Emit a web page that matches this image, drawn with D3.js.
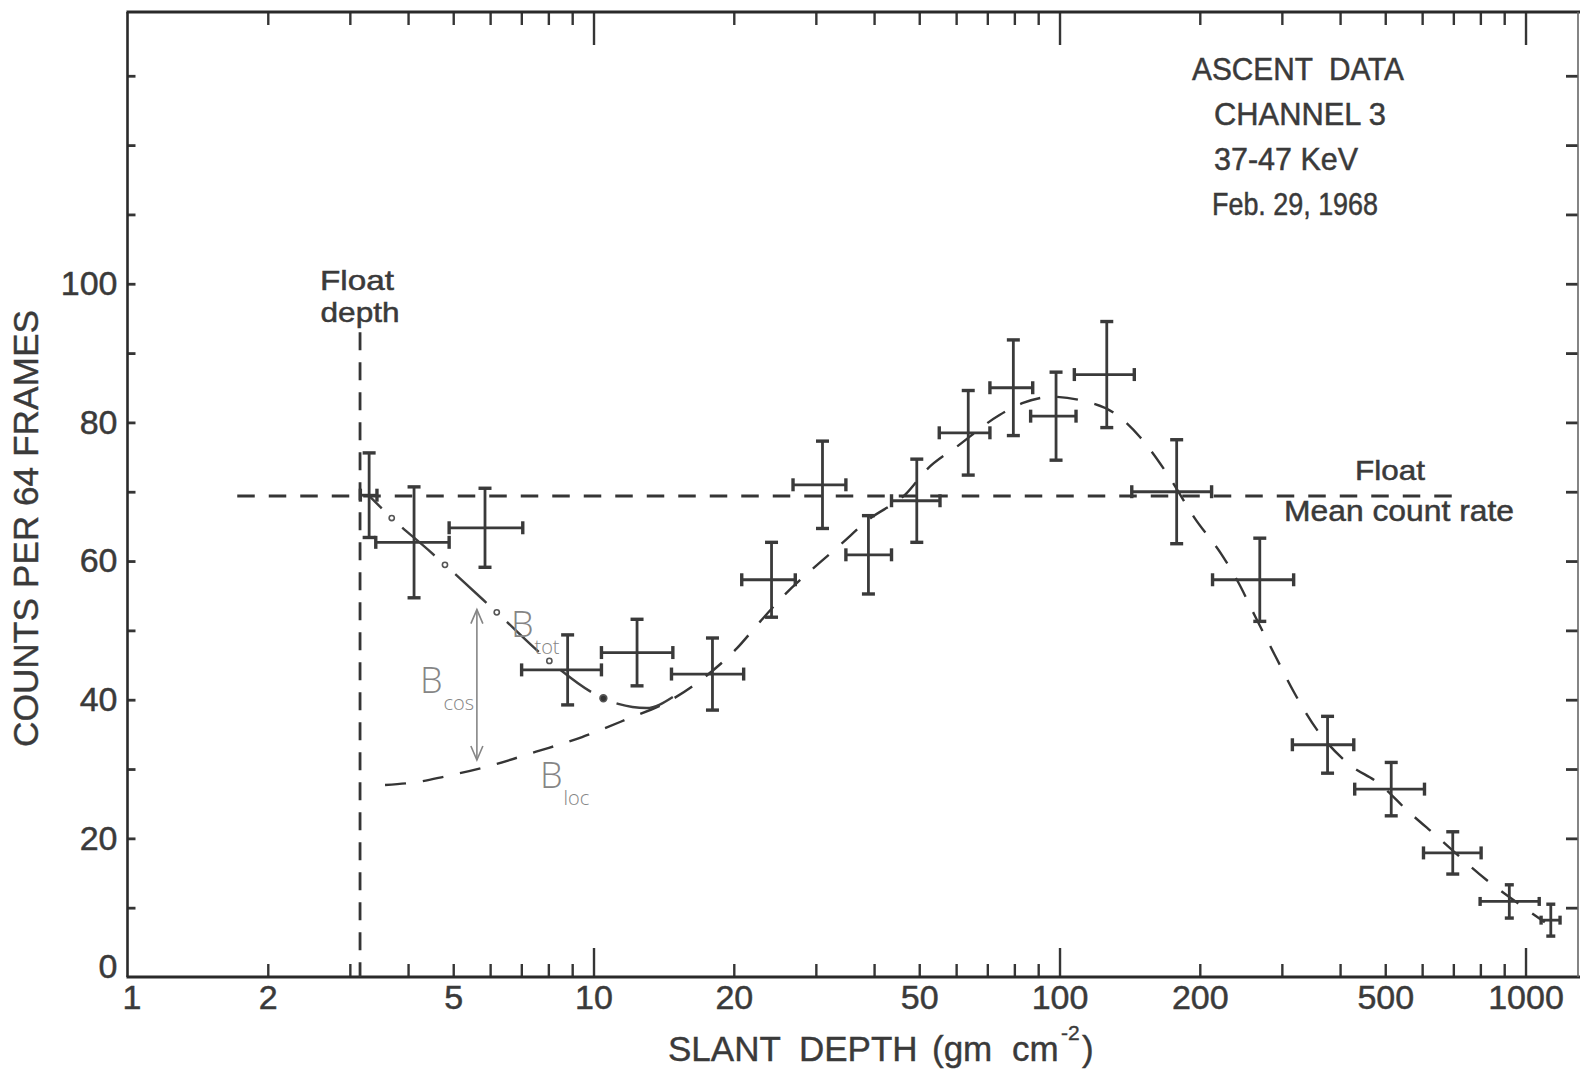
<!DOCTYPE html>
<html>
<head>
<meta charset="utf-8">
<script src="https://cdn.jsdelivr.net/npm/d3@7"></script>
<style>
  html, body { margin: 0; padding: 0; background: #fff; }
  svg { display: block; }
</style>
</head>
<body>
<svg id="chart" width="1582" height="1072"></svg>
<script>
// ---- Measured counts per 64 frames vs slant depth (g cm^-2), ascent, channel 3 ----
const depth    = [3.30, 4.12, 5.85, 8.80, 12.4, 18.0, 24.1, 31.0, 38.9, 49.4, 63.7, 79.6, 98.3, 126.3, 178.4, 269, 376, 515, 698, 923, 1133];
const depthLo  = [3.16, 3.41, 4.90, 7.01, 10.4, 14.7, 20.8, 26.8, 34.8, 43.6, 55.2, 70.9, 86.7, 107.6, 142.9, 213, 316, 430, 604, 799, 1080];
const depthHi  = [3.43, 4.90, 7.05, 10.4, 14.8, 21.0, 27.1, 34.8, 43.6, 55.4, 70.9, 87.6, 108.5, 144.7, 212, 318, 428, 607, 803, 1070, 1186];
const counts   = [69.5, 62.7, 64.8, 44.3, 46.8, 43.7, 57.3, 71.0, 60.9, 68.7, 78.5, 85.0, 80.9, 86.9, 70.0, 57.3, 33.5, 27.1, 17.9, 10.9, 8.2];
const countErr = [6.1, 8.0, 5.7, 5.05, 4.8, 5.2, 5.4, 6.3, 5.65, 6.0, 6.1, 6.9, 6.35, 7.65, 7.5, 6.0, 4.1, 3.85, 3.05, 2.4, 2.3];

// Local background B_loc joined to the fitted growth/decay curve
const mainCurveDepth  = [3.57, 4.26, 4.78, 5.91, 7.53, 9.45, 11.7, 14.7, 17.2, 20.3, 22.8, 25.5, 29.9, 33.8, 38.8, 47.0, 51.9, 60.2, 74.5, 83.5, 96.8, 110.7, 132.6, 148.8, 169.8, 195, 223, 242, 263, 291, 319, 361, 420, 483, 560, 645, 825, 998, 1100];
const mainCurveCounts = [27.7, 28.2, 28.9, 30.35, 32.5, 34.6, 37.1, 40.0, 43.1, 47.4, 51.3, 54.9, 59.2, 62.3, 65.9, 69.8, 73.2, 76.5, 81.1, 82.8, 83.7, 83.2, 81.1, 77.9, 72.7, 66.2, 60.9, 56.9, 52.0, 46.2, 41.0, 35.2, 30.6, 28.0, 23.9, 20.3, 14.0, 9.9, 7.9];

// Total background B_tot (dash-dot) with its marker dots
const btotDepth  = [3.30, 3.69, 4.42, 4.80, 6.20, 8.04, 10.5, 11.3, 13.0, 14.8];
const btotCounts = [69.4, 66.2, 61.6, 59.45, 52.6, 45.6, 40.2, 39.4, 38.8, 40.4];
const btotDotDepth  = [3.69, 4.80, 6.20, 8.04, 10.5];
const btotDotCounts = [66.2, 59.45, 52.6, 45.6, 40.2];

// Float level reference lines
const floatDepth = 3.155;
const floatDepthLineTop = 93;
const floatMean = 69.4;
const floatMeanRange = [1.72, 716];

// Cosmic component arrow (B_cos)
const bcosDepth = 5.62;
const bcosRange = [31.3, 53.0];

// Axes
const xDomain = [1, 1296];
const yDomain = [0, 139.2];
const xLabelTicks = [1, 2, 5, 10, 20, 50, 100, 200, 500, 1000];
const xMajorTicks = [10, 100, 1000];
const xMinorTicks = [2, 3, 4, 5, 6, 7, 8, 9, 20, 30, 40, 50, 60, 70, 80, 90, 200, 300, 400, 500, 600, 700, 800, 900];
const yLabelTicks = [0, 20, 40, 60, 80, 100];
const yMinorTicks = [10, 20, 30, 40, 50, 60, 70, 80, 90, 100, 110, 120, 130];

const infoLines = ["ASCENT  DATA", "CHANNEL 3", "37-47 KeV", "Feb. 29, 1968"];
const xTitle = ["SLANT", "DEPTH", "(gm", "cm", "-2", ")"];
const yTitle = "COUNTS PER 64 FRAMES";

// ---- Drawing ----
const frame = { left: 127.5, right: 1578, top: 12, bottom: 977 };
const ink = "#353535";
const textInk = "#3a3a3a";
const soft = "#858585";
const font = "'Liberation Sans', Arial, 'DejaVu Sans', sans-serif";

const svg = d3.select("#chart");
svg.append("rect").attr("width", 1582).attr("height", 1072).attr("fill", "#fff");

const x = d3.scaleLog().domain(xDomain).range([frame.left, frame.right]);
const y = d3.scaleLinear().domain(yDomain).range([frame.bottom, frame.top]);

function tidy(g, width) {
  g.select(".domain").remove();
  g.selectAll(".tick line").attr("stroke", ink).attr("stroke-width", width || 2.4);
  g.selectAll(".tick text")
    .attr("fill", textInk)
    .attr("stroke", textInk).attr("stroke-width", 0.5)
    .attr("font-family", font)
    .attr("font-size", 34);
}

// tick marks (all pointing inward)
svg.append("g").attr("transform", `translate(0,${frame.bottom})`)
  .call(d3.axisBottom(x).tickValues(xMinorTicks).tickSize(-13).tickFormat("")).call(tidy);
svg.append("g").attr("transform", `translate(0,${frame.bottom})`)
  .call(d3.axisBottom(x).tickValues(xMajorTicks).tickSize(-29).tickFormat("")).call(tidy);
svg.append("g").attr("transform", `translate(0,${frame.top})`)
  .call(d3.axisTop(x).tickValues(xMinorTicks).tickSize(-13).tickFormat("")).call(tidy);
svg.append("g").attr("transform", `translate(0,${frame.top})`)
  .call(d3.axisTop(x).tickValues(xMajorTicks).tickSize(-33).tickFormat("")).call(tidy);
svg.append("g").attr("transform", `translate(${frame.left},0)`)
  .call(d3.axisLeft(y).tickValues(yMinorTicks).tickSize(-8).tickFormat("")).call(g => tidy(g, 2.8));
svg.append("g").attr("transform", `translate(${frame.right},0)`)
  .call(d3.axisRight(y).tickValues(yMinorTicks).tickSize(-12).tickFormat("")).call(g => tidy(g, 2.8));

// tick labels
svg.append("g").attr("transform", `translate(0,${frame.bottom})`)
  .call(d3.axisBottom(x).tickValues(xLabelTicks).tickSize(0).tickPadding(8).tickFormat(d3.format("d")))
  .call(tidy)
  .call(g => g.selectAll(".tick").filter(d => d === 1).select("text").attr("dx", 4));
svg.append("g").attr("transform", `translate(${frame.left},0)`)
  .call(d3.axisLeft(y).tickValues(yLabelTicks).tickSize(0).tickPadding(10).tickFormat(d3.format("d")))
  .call(tidy)
  .call(g => g.selectAll(".tick").filter(d => d === 0).select("text").attr("y", -10));

// frame
const frameG = svg.append("g").attr("stroke", "#2a2a2a").attr("fill", "none");
frameG.append("line").attr("x1", frame.left - 1).attr("x2", frame.right + 2).attr("y1", frame.top).attr("y2", frame.top).attr("stroke-width", 3);
frameG.append("line").attr("x1", frame.left - 1).attr("x2", frame.right + 2).attr("y1", frame.bottom).attr("y2", frame.bottom).attr("stroke-width", 3);
frameG.append("line").attr("x1", frame.left).attr("x2", frame.left).attr("y1", frame.top).attr("y2", frame.bottom).attr("stroke-width", 2.6);
frameG.append("line").attr("x1", frame.right).attr("x2", frame.right).attr("y1", frame.top).attr("y2", frame.bottom).attr("stroke-width", 1.6).attr("stroke", "#666");

// float depth (vertical dashed) and float mean count rate (horizontal dashed)
svg.append("line")
  .attr("x1", x(floatDepth)).attr("x2", x(floatDepth))
  .attr("y1", y(floatDepthLineTop)).attr("y2", y(0))
  .attr("stroke", ink).attr("stroke-width", 2.8).attr("stroke-dasharray", "18 12");
svg.append("line")
  .attr("x1", x(floatMeanRange[0])).attr("x2", x(floatMeanRange[1]))
  .attr("y1", y(floatMean)).attr("y2", y(floatMean))
  .attr("stroke", ink).attr("stroke-width", 3).attr("stroke-dasharray", "17.5 14");

// fitted curve
const line = d3.line().x(d => x(d[0])).y(d => y(d[1])).curve(d3.curveMonotoneX);
svg.append("path")
  .attr("d", line(mainCurveDepth.map((d, i) => [d, mainCurveCounts[i]])))
  .attr("fill", "none").attr("stroke", ink).attr("stroke-width", 2.4)
  .attr("stroke-dasharray", "21 17");

// B_tot dash-dot curve: gaps centred on the marker dots
const btotPath = svg.append("path")
  .attr("d", line(btotDepth.map((d, i) => [d, btotCounts[i]])))
  .attr("fill", "none").attr("stroke", "#3e3e3e").attr("stroke-width", 2.4);
const node = btotPath.node();
const total = node.getTotalLength();
function lengthAtX(px) {
  let lo = 0, hi = total;
  for (let k = 0; k < 40; k++) {
    const mid = (lo + hi) / 2;
    if (node.getPointAtLength(mid).x < px) lo = mid; else hi = mid;
  }
  return (lo + hi) / 2;
}
const gapHalf = 14;
let pos = 0;
const dashes = [];
btotDotDepth.forEach(d => {
  const L = lengthAtX(x(d));
  dashes.push(Math.max(0, L - gapHalf - pos), 2 * gapHalf);
  pos = L + gapHalf;
});
dashes.push(Math.max(0, total - pos), 200);
btotPath.attr("stroke-dasharray", dashes.join(" "));

svg.append("g").selectAll("circle")
  .data(btotDotDepth.map((d, i) => [d, btotDotCounts[i]]))
  .join("circle")
  .attr("cx", d => x(d[0])).attr("cy", d => y(d[1]))
  .attr("r", (d, i) => i === btotDotDepth.length - 1 ? 3.4 : 2.6)
  .attr("fill", (d, i) => i === btotDotDepth.length - 1 ? "#333" : "#fff")
  .attr("stroke", "#555").attr("stroke-width", 1.6);

// error crosses
const bars = svg.append("g").attr("stroke", "#3a3a3a").attr("fill", "none");
const cap = 6.5;
depth.forEach((d, i) => {
  const cx = x(d), cy = y(counts[i]);
  const yt = y(counts[i] + countErr[i]), yb = y(counts[i] - countErr[i]);
  const xl = x(depthLo[i]), xr = x(depthHi[i]);
  const c = countErr[i] < 3 ? 4.5 : cap;
  const g = bars.append("g");
  g.append("line").attr("x1", cx).attr("x2", cx).attr("y1", yt).attr("y2", yb).attr("stroke-width", 2.8);
  g.append("line").attr("x1", xl).attr("x2", xr).attr("y1", cy).attr("y2", cy).attr("stroke-width", 2.8);
  g.append("line").attr("x1", cx - c).attr("x2", cx + c).attr("y1", yt).attr("y2", yt).attr("stroke-width", 3.4);
  g.append("line").attr("x1", cx - c).attr("x2", cx + c).attr("y1", yb).attr("y2", yb).attr("stroke-width", 3.4);
  g.append("line").attr("x1", xl).attr("x2", xl).attr("y1", cy - c).attr("y2", cy + c).attr("stroke-width", 3.4);
  g.append("line").attr("x1", xr).attr("x2", xr).attr("y1", cy - c).attr("y2", cy + c).attr("stroke-width", 3.4);
});

// B_cos double arrow
const ax = x(bcosDepth), ayTop = y(bcosRange[1]), ayBot = y(bcosRange[0]);
const arrow = svg.append("g").attr("stroke", soft).attr("stroke-width", 1.6).attr("fill", "none");
arrow.append("line").attr("x1", ax).attr("x2", ax).attr("y1", ayTop).attr("y2", ayBot);
arrow.append("path").attr("d", `M${ax - 6},${ayTop + 14} L${ax},${ayTop} L${ax + 6},${ayTop + 14}`);
arrow.append("path").attr("d", `M${ax - 6},${ayBot - 14} L${ax},${ayBot} L${ax + 6},${ayBot - 14}`);

// hand-lettered component labels
const hand = "'Open Sans', 'DejaVu Sans', sans-serif";
function compLabel(px, py, sub) {
  const t = svg.append("text").attr("x", px).attr("y", py)
    .attr("font-family", hand).attr("font-weight", 300).attr("fill", soft).attr("font-size", 36);
  t.append("tspan").text("B");
  t.append("tspan").attr("font-size", 20).attr("dx", 1).attr("dy", 17).text(sub);
}
compLabel(x(bcosDepth) + 34, y(bcosRange[1]) + 27, "tot");
compLabel(x(bcosDepth) - 57, y(bcosRange[1]) + 83, "cos");
compLabel(x(bcosDepth) + 63, y(bcosRange[0]) + 28, "loc");

// text annotations
const txt = (px, py, s, size, len, anchor) => svg.append("text")
  .attr("x", px).attr("y", py).attr("font-family", font).attr("font-size", size)
  .attr("fill", textInk).attr("stroke", textInk).attr("stroke-width", 0.5)
  .attr("text-anchor", anchor || "start")
  .attr("textLength", len).attr("lengthAdjust", "spacingAndGlyphs")
  .attr("xml:space", "preserve").text(s);

txt(x(floatDepth) - 3, 290, "Float", 28, 74, "middle");
txt(x(floatDepth), 322, "depth", 28, 79, "middle");
txt(1390, y(floatMean) - 16, "Float", 28, 70, "middle");
txt(1399, y(floatMean) + 25, "Mean count rate", 30, 230, "middle");

const infoX = [1192, 1214, 1214, 1212];
const infoLen = [212, 172, 144, 166];
infoLines.forEach((s, i) => txt(infoX[i], 80 + i * 45, s, 32, infoLen[i]));

// axis titles
const xt = svg.append("text").attr("y", 1061).attr("font-family", font)
  .attr("font-size", 35).attr("fill", textInk).attr("stroke", textInk).attr("stroke-width", 0.4);
const xtPos = [668, 799, 932, 1012, 1061, 1082];
xTitle.forEach((s, i) => {
  const sp = xt.append("tspan").attr("x", xtPos[i]).text(s);
  if (s === "-2") sp.attr("font-size", 21).attr("y", 1040);
  if (s === ")") sp.attr("y", 1061);
});

svg.append("text")
  .attr("transform", "translate(38,528.5) rotate(-90)")
  .attr("text-anchor", "middle").attr("font-family", font).attr("font-size", 35)
  .attr("fill", textInk).attr("stroke", textInk).attr("stroke-width", 0.4)
  .attr("textLength", 437).attr("lengthAdjust", "spacingAndGlyphs")
  .text(yTitle);
</script>
</body>
</html>
